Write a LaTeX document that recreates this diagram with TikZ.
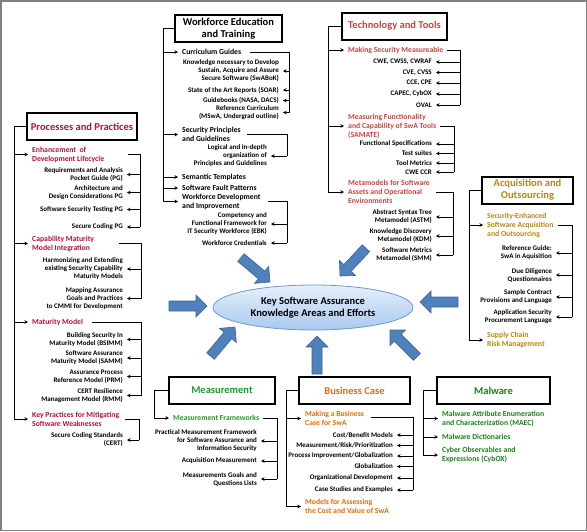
\documentclass[tikz,border=0pt]{standalone}
\usepackage{fontspec}
\setmainfont{Carlito}
\usetikzlibrary{arrows.meta,shapes.geometric}
\definecolor{ppred}{HTML}{B4123C}
\definecolor{ttred}{HTML}{C9453F}
\definecolor{acqgold}{HTML}{B8860B}
\definecolor{busorange}{HTML}{E36C09}
\definecolor{measgreen}{HTML}{1E9A2A}
\definecolor{malgreen}{HTML}{1A7F1A}
\definecolor{arrowblue}{HTML}{4F81BD}
\definecolor{arrowedge}{HTML}{3A6496}
\definecolor{elltop}{HTML}{E6F0FB}
\definecolor{ellbot}{HTML}{A9C8EF}
\definecolor{elledge}{HTML}{6A9AD4}
\definecolor{framegray}{HTML}{808080}
\tikzset{barrow/.pic={\filldraw[fill=arrowblue,draw=arrowedge,line width=0.6pt] (0,0) -- (-11,11) -- (-11,5) -- (-38,5) -- (-38,-5) -- (-11,-5) -- (-11,-11) -- cycle;}}
\begin{document}
\begin{tikzpicture}[x=1pt,y=-1pt,
 every node/.style={font=\bfseries},
 titlebox/.style={draw=black,line width=2pt,minimum width=#1,minimum height=27pt,align=center,inner sep=1pt,font=\fontsize{10.5}{12}\selectfont\bfseries},
 head/.style={anchor=west,align=left,inner xsep=4pt,inner ysep=0pt,font=\fontsize{7.7}{9}\selectfont\bfseries},
 sub/.style={anchor=east,align=right,inner xsep=4pt,inner ysep=0pt,font=\fontsize{7}{8}\selectfont\bfseries},
 ln/.style={line width=0.8pt,black},
 arr/.style={ln,-{Stealth[length=3.5pt,width=3.5pt]}}]
\useasboundingbox (0,0) rectangle (587,531);
\draw[line width=1.5pt,framegray] (0.75,0.75) rectangle (586.25,530.25);

% ---------- Processes and Practices
\node[titlebox=110pt,text=ppred] (pp) at (82,126.5) {Processes and Practices};
\coordinate (ppt) at (14,419);
\node[head,text=ppred] (pp1) at (28,154.5) {Enhancement\ \ of\\Development Lifecycle};
\node[head,text=ppred] (pp2) at (28,243.5) {Capability Maturity\\Model Integration};
\node[head,text=ppred] (pp3) at (28,322) {Maturity Model};
\node[head,text=ppred] (pp4) at (28,419) {Key Practices for Mitigating\\Software Weaknesses};
\draw[ln] (pp.west) -| (ppt);
\foreach \n in {pp1,pp2,pp3,pp4} \draw[arr] (ppt |- \n.west) -- (\n.west);

\node[sub] (pp1a) at (127,174.5) {Requirements and Analysis\\Pocket Guide (PG)};
\node[sub] (pp1b) at (127,192.5) {Architecture and\\Design Considerations PG};
\node[sub] (pp1c) at (127,209.5) {Software Security Testing PG};
\node[sub] (pp1d) at (127,227) {Secure Coding PG};
\coordinate (pp1s) at (128,154.5); \coordinate (pp1t) at (140,227);
\draw[ln] (pp1s) -| (pp1t);
\foreach \n in {pp1a,pp1b,pp1c,pp1d} \draw[arr] (pp1t |- \n.east) -- (\n.east);

\node[sub] (pp2a) at (127,269) {Harmonizing and Extending\\existing Security Capability\\Maturity Models};
\node[sub] (pp2b) at (127,298.5) {Mapping Assurance\\Goals and Practices\\to CMMI for Development};
\coordinate (pp2s) at (119,243.5); \coordinate (pp2t) at (141,298.5);
\draw[ln] (pp2s) -| (pp2t);
\foreach \n in {pp2a,pp2b} \draw[arr] (pp2t |- \n.east) -- (\n.east);

\node[sub] (pp3a) at (127,339.5) {Building Security In\\Maturity Model (BSIMM)};
\node[sub] (pp3b) at (127,358) {Software Assurance\\Maturity Model (SAMM)};
\node[sub] (pp3c) at (127,376.5) {Assurance Process\\Reference Model (PRM)};
\node[sub] (pp3d) at (127,395.5) {CERT Resilience\\Management Model (RMM)};
\coordinate (pp3s) at (92,322); \coordinate (pp3t) at (141,395.5);
\draw[ln] (pp3s) -| (pp3t);
\foreach \n in {pp3a,pp3b,pp3c,pp3d} \draw[arr] (pp3t |- \n.east) -- (\n.east);

\node[sub] (pp4a) at (127,440) {Secure Coding Standards\\(CERT)};
\coordinate (pp4s) at (125,419); \coordinate (pp4t) at (139,440);
\draw[ln] (pp4s) -| (pp4t);
\draw[arr] (pp4t |- pp4a.east) -- (pp4a.east);

% ---------- Workforce Education and Training
\node[titlebox=107pt] (wf) at (228.5,28.5) {Workforce Education\\and Training};
\coordinate (wft) at (163,201.5);
\node[head] (wf1) at (178,52) {Curriculum Guides};
\node[head] (wf2) at (178,134.5) {Security Principles\\and Guidelines};
\node[head] (wf3) at (178,177) {Semantic Templates};
\node[head] (wf4) at (178,188) {Software Fault Patterns};
\node[head] (wf5) at (178,201.5) {Workforce Development\\and Improvement};
\draw[ln] (wf.west) -| (wft);
\foreach \n in {wf1,wf2,wf3,wf4,wf5} \draw[arr] (wft |- \n.west) -- (\n.west);

\node[sub] (wf1a) at (283,71) {Knowledge necessary to Develop\\Sustain, Acquire and Assure\\Secure Software (SwABoK)};
\node[sub] (wf1b) at (283,90) {State of the Art Reports (SOAR)};
\node[sub] (wf1c) at (283,100.5) {Guidebooks (NASA, DACS)};
\node[sub] (wf1d) at (283,112.5) {Reference Curriculum\\(MSwA, Undergrad outline)};
\coordinate (wf1s) at (250,52); \coordinate (wf1t) at (289,112.5);
\draw[ln] (wf1s) -| (wf1t);
\foreach \n in {wf1a,wf1b,wf1c,wf1d} \draw[arr] (wf1t |- \n.east) -- (\n.east);

\node[sub] (wf2a) at (271,156) {Logical and In-depth\\organization of\\Principles and Guidelines};
\coordinate (wf2s) at (247,134.5); \coordinate (wf2t) at (287,156);
\draw[ln] (wf2s) -| (wf2t);
\draw[arr] (wf2t |- wf2a.east) -- (wf2a.east);

\node[sub] (wf5a) at (271,224) {Competency and\\Functional Framework for\\IT Security Workforce (EBK)};
\node[sub] (wf5b) at (271,243) {Workforce Credentials};
\coordinate (wf5s) at (268,201.5); \coordinate (wf5t) at (287,243);
\draw[ln] (wf5s) -| (wf5t);
\foreach \n in {wf5a,wf5b} \draw[arr] (wf5t |- \n.east) -- (\n.east);

% ---------- Technology and Tools
\node[titlebox=105pt,text=ttred] (tt) at (394.5,26) {Technology and Tools};
\coordinate (ttt) at (328,192);
\node[head,text=ttred] (tt1) at (344,50) {Making Security Measureable};
\node[head,text=ttred] (tt2) at (344,126) {Measuring Functionality\\and Capability of SwA Tools\\(SAMATE)};
\node[head,text=ttred] (tt3) at (344,192) {Metamodels for Software\\Assets and Operational\\Environments};
\draw[ln] (tt.west) -| (ttt);
\foreach \n in {tt1,tt2,tt3} \draw[arr] (ttt |- \n.west) -- (\n.west);

\node[sub] (tt1a) at (436,62) {CWE, CWSS, CWRAF};
\node[sub] (tt1b) at (436,72.5) {CVE, CVSS};
\node[sub] (tt1c) at (436,83) {CCE, CPE};
\node[sub] (tt1d) at (436,94) {CAPEC, CybOX};
\node[sub] (tt1e) at (436,105) {OVAL};
\coordinate (tt1s) at (447,50); \coordinate (tt1t) at (460,105);
\draw[ln] (tt1s) -| (tt1t);
\foreach \n in {tt1a,tt1b,tt1c,tt1d,tt1e} \draw[arr] (tt1t |- \n.east) -- (\n.east);

\node[sub] (tt2a) at (436,144) {Functional Specifications};
\node[sub] (tt2b) at (436,153.5) {Test suites};
\node[sub] (tt2c) at (436,163) {Tool Metrics};
\node[sub] (tt2d) at (436,172) {CWE CCR};
\coordinate (tt2s) at (440,126); \coordinate (tt2t) at (454,172);
\draw[ln] (tt2s) -| (tt2t);
\foreach \n in {tt2a,tt2b,tt2c,tt2d} \draw[arr] (tt2t |- \n.east) -- (\n.east);

\node[sub] (tt3a) at (436,217) {Abstract Syntax Tree\\Metamodel (ASTM)};
\node[sub] (tt3b) at (436,236) {Knowledge Discovery\\Metamodel (KDM)};
\node[sub] (tt3c) at (436,255) {Software Metrics\\Metamodel (SMM)};
\coordinate (tt3s) at (436,192); \coordinate (tt3t) at (453,255);
\draw[ln] (tt3s) -| (tt3t);
\foreach \n in {tt3a,tt3b,tt3c} \draw[arr] (tt3t |- \n.east) -- (\n.east);

% ---------- Acquisition and Outsourcing
\node[titlebox=91pt,text=acqgold] (aq) at (527.5,190) {Acquisition and\\Outsourcing};
\coordinate (aqt) at (469,340);
\node[head,text=acqgold] (aq1) at (483,225) {Security-Enhanced\\Software Acquisition\\and Outsourcing};
\node[head,text=acqgold] (aq2) at (483,340) {Supply Chain\\Risk Management};
\draw[ln] (aq.west) -| (aqt);
\foreach \n in {aq1,aq2} \draw[arr] (aqt |- \n.west) -- (\n.west);

\node[sub] (aq1a) at (556,253) {Reference Guide:\\SwA in Aquisition};
\node[sub] (aq1b) at (556,275) {Due Diligence\\Questionnaires};
\node[sub] (aq1c) at (556,297) {Sample Contract\\Provisions and Language};
\node[sub] (aq1d) at (556,317) {Application Security\\Procurement Language};
\coordinate (aq1s) at (558,225); \coordinate (aq1t) at (572,317);
\draw[ln] (aq1s) -| (aq1t);
\foreach \n in {aq1a,aq1b,aq1c,aq1d} \draw[arr] (aq1t |- \n.east) -- (\n.east);

% ---------- Measurement
\node[titlebox=106pt,text=measgreen] (ms) at (222,390.5) {Measurement};
\coordinate (mst) at (154,418);
\node[head,text=measgreen] (ms1) at (169,418) {Measurement Frameworks};
\draw[ln] (ms.west) -| (mst);
\draw[arr] (mst |- ms1.west) -- (ms1.west);
\node[sub] (ms1a) at (261,441) {Practical Measurement Framework\\for Software Assurance and\\Information Security};
\node[sub] (ms1b) at (261,461) {Acquisition Measurement};
\node[sub] (ms1c) at (261,479) {Measurements Goals and\\Questions Lists};
\coordinate (ms1s) at (263,418); \coordinate (ms1t) at (277,479);
\draw[ln] (ms1s) -| (ms1t);
\foreach \n in {ms1a,ms1b,ms1c} \draw[arr] (ms1t |- \n.east) -- (\n.east);

% ---------- Business Case
\node[titlebox=111pt,text=busorange] (bc) at (354.5,390.5) {Business Case};
\coordinate (bct) at (286,506.5);
\node[head,text=busorange] (bc1) at (301,418.5) {Making a Business\\Case for SwA};
\node[head,text=busorange] (bc2) at (301,506.5) {Models for Assessing\\the Cost and Value of SwA};
\draw[ln] (bc.west) -| (bct);
\foreach \n in {bc1,bc2} \draw[arr] (bct |- \n.west) -- (\n.west);
\node[sub] (bc1a) at (397,435) {Cost/Benefit Models};
\node[sub] (bc1b) at (397,445.5) {Measurement/Risk/Prioritization};
\node[sub] (bc1c) at (397,456) {Process Improvement/Globalization};
\node[sub] (bc1d) at (397,466.5) {Globalization};
\node[sub] (bc1e) at (397,478) {Organizational Development};
\node[sub] (bc1f) at (397,490) {Case Studies and Examples};
\coordinate (bc1s) at (371,417.5); \coordinate (bc1t) at (413,490);
\draw[ln] (bc1s) -| (bc1t);
\foreach \n in {bc1a,bc1b,bc1c,bc1d,bc1e,bc1f} \draw[arr] (bc1t |- \n.east) -- (\n.east);

% ---------- Malware
\node[titlebox=113pt,text=malgreen] (mw) at (493.5,390.5) {Malware};
\coordinate (mwt) at (423,455);
\node[head,text=malgreen] (mw1) at (438,418.5) {Malware Attribute Enumeration\\and Characterization (MAEC)};
\node[head,text=malgreen] (mw2) at (438,437) {Malware Dictionaries};
\node[head,text=malgreen] (mw3) at (438,455) {Cyber Observables and\\Expressions (CybOX)};
\draw[ln] (mw.west) -| (mwt);
\foreach \n in {mw1,mw2,mw3} \draw[arr] (mwt |- \n.west) -- (\n.west);

% ---------- Centre
\node[ellipse,draw=elledge,line width=0.8pt,top color=elltop,bottom color=ellbot,minimum width=200pt,minimum height=45pt,align=center,inner sep=0pt,font=\fontsize{10.5}{12.5}\selectfont\bfseries] (ka) at (313,307.5) {Key Software Assurance\\Knowledge Areas and Efforts};

\pic[rotate=-40] at (270,282) {barrow};
\pic[rotate=-133] at (340,276) {barrow};
\pic[rotate=0] at (207,306) {barrow};
\pic[rotate=180] at (420,302) {barrow};
\pic[rotate=50] at (235,327) {barrow};
\pic[rotate=90] at (317,336) {barrow};
\pic[rotate=135] at (390,330) {barrow};
\end{tikzpicture}
\end{document}
